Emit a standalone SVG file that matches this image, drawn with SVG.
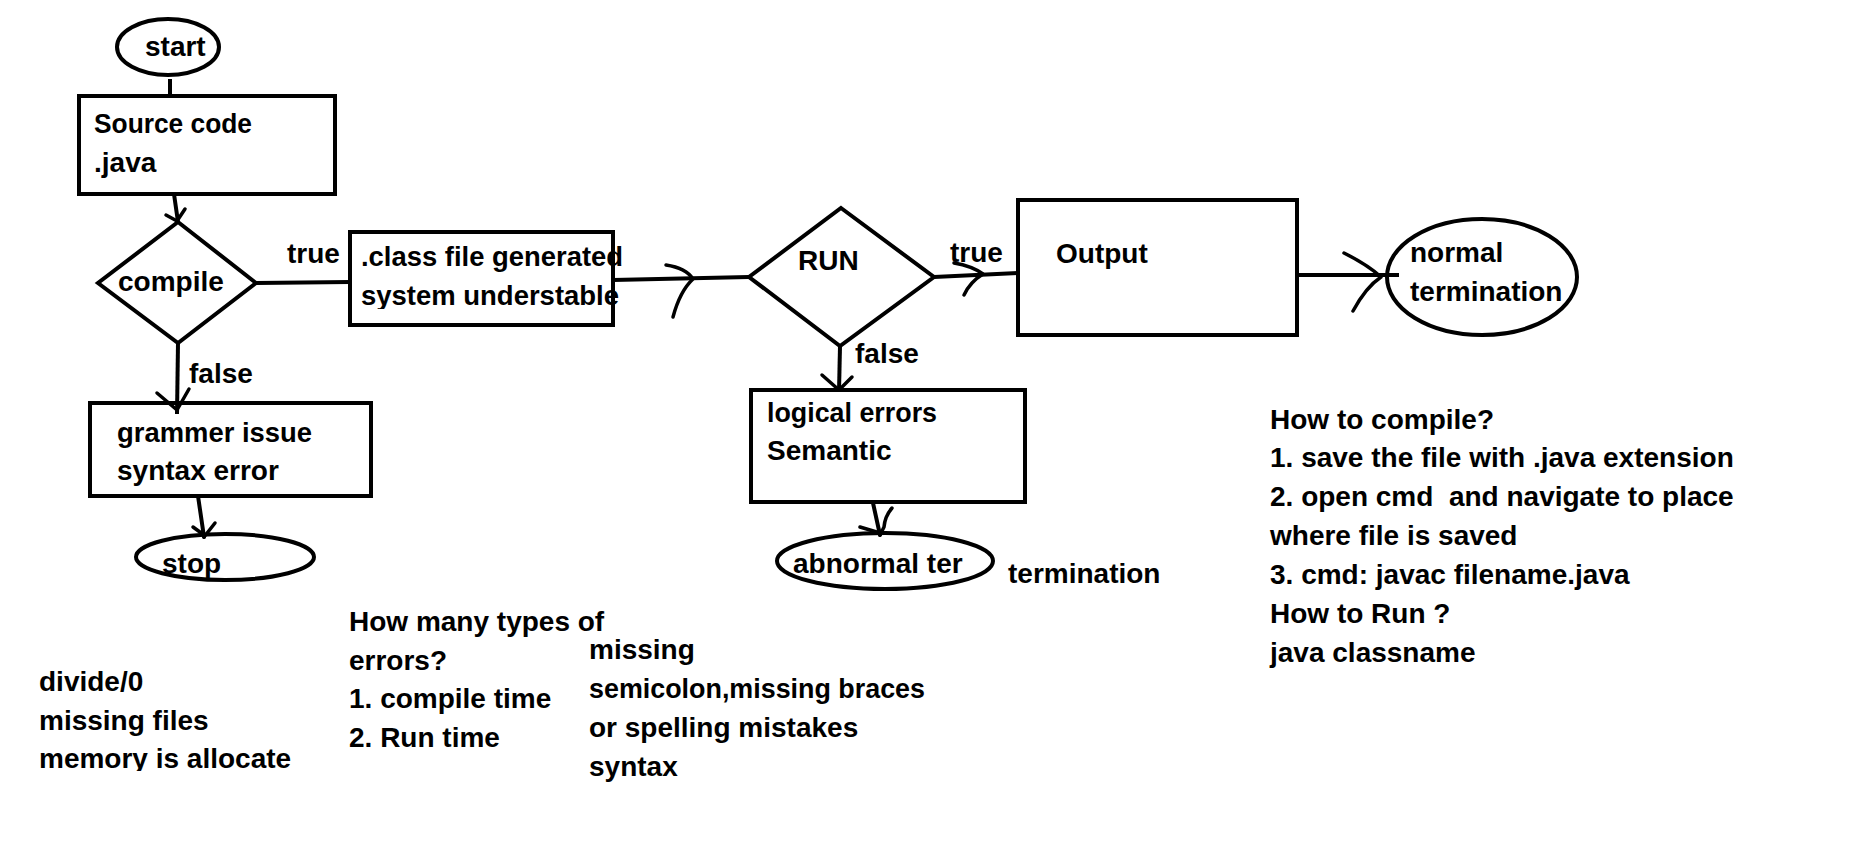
<svg xmlns="http://www.w3.org/2000/svg" width="1865" height="846" viewBox="0 0 1865 846">
<style>
.t{font-family:"Liberation Sans",Arial,sans-serif;font-weight:bold;font-size:28px;fill:#000;white-space:pre}
.s{fill:none;stroke:#000;stroke-width:4}
.c{fill:none;stroke:#000;stroke-width:4;stroke-linecap:round;stroke-linejoin:round}
.h{fill:none;stroke:#000;stroke-width:3.5;stroke-linecap:round;stroke-linejoin:round}
</style>
<defs>
<clipPath id="clipSys"><rect x="340" y="280" width="300" height="29"/></clipPath>
<clipPath id="clipMem"><rect x="20" y="740" width="320" height="31"/></clipPath>
</defs>
<rect width="1865" height="846" fill="#fff"/>

<g id="connectors">
  <line class="s" x1="170" y1="79" x2="170" y2="96"/>
  <line class="c" x1="174" y1="194" x2="178" y2="222"/>
  <path class="h" d="M166,215 L177,221 M185,209 L177,221"/>
  <line class="s" x1="256" y1="283" x2="350" y2="282"/>
  <text class="t" x="287" y="263">true</text>
  <line class="s" x1="178" y1="343" x2="177" y2="414"/>
  <path class="h" d="M157,393 L177,410 M189,389 L177,410"/>
  <text class="t" x="189" y="383">false</text>
  <line class="c" x1="198" y1="496" x2="204" y2="537"/>
  <path class="h" d="M193,527 L204,535 M215,523 L204,537"/>
  <line class="s" x1="613" y1="280" x2="749" y2="277"/>
  <path class="h" d="M666,265 Q686,268 693,279 Q680,291 673,317"/>
  <line class="s" x1="934" y1="277" x2="1018" y2="273"/>
  <path class="h" d="M954,263 Q972,266 983,274 Q970,282 964,295"/>
  <text class="t" x="950" y="262">true</text>
  <line class="s" x1="840" y1="346" x2="839" y2="392"/>
  <path class="h" d="M822,375 L839,390 M852,377 L839,390"/>
  <text class="t" x="855" y="363">false</text>
  <line class="c" x1="873" y1="503" x2="880" y2="535"/>
  <path class="h" d="M860,527 L880,533 M892,508 Q885,516 884,527 L880,535"/>
  <line class="s" x1="1297" y1="275" x2="1399" y2="275"/>
  <path class="h" d="M1344,253 Q1368,265 1381,277 Q1366,287 1353,311"/>
</g>

<g id="start">
  <ellipse class="s" cx="168" cy="47" rx="51" ry="28"/>
  <text class="t" x="145" y="56">start</text>
</g>
<g id="source">
  <rect class="s" x="79" y="96" width="256" height="98"/>
  <text class="t" x="94" y="133" textLength="158" lengthAdjust="spacingAndGlyphs">Source code</text>
  <text class="t" x="94" y="172">.java</text>
</g>
<g id="compile">
  <polygon class="s" points="178,222 256,283 178,343 98,283"/>
  <text class="t" x="118" y="291">compile</text>
</g>
<g id="classfile">
  <text class="t" x="361" y="266" textLength="262" lengthAdjust="spacingAndGlyphs">.class file generated</text>
  <text class="t" x="361" y="305" clip-path="url(#clipSys)" textLength="258" lengthAdjust="spacingAndGlyphs">system understable</text>
  <rect class="s" x="350" y="232" width="263" height="93"/>
</g>
<g id="grammer">
  <rect class="s" x="90" y="403" width="281" height="93"/>
  <text class="t" x="117" y="442" textLength="195" lengthAdjust="spacingAndGlyphs">grammer issue</text>
  <text class="t" x="117" y="480">syntax error</text>
</g>
<g id="stop">
  <ellipse class="s" cx="225" cy="557" rx="89" ry="23"/>
  <text class="t" x="162" y="573">stop</text>
</g>
<g id="run">
  <polygon class="s" points="841,208 934,277 840,346 749,277"/>
  <text class="t" x="798" y="270">RUN</text>
</g>
<g id="output">
  <rect class="s" x="1018" y="200" width="279" height="135"/>
  <text class="t" x="1056" y="263">Output</text>
</g>
<g id="normal">
  <ellipse class="s" cx="1482" cy="277" rx="95" ry="58"/>
  <text class="t" x="1410" y="262">normal</text>
  <text class="t" x="1410" y="301">termination</text>
</g>
<g id="logical">
  <rect class="s" x="751" y="390" width="274" height="112"/>
  <text class="t" x="767" y="422" textLength="170" lengthAdjust="spacingAndGlyphs">logical errors</text>
  <text class="t" x="767" y="460">Semantic</text>
</g>
<g id="abnormal">
  <ellipse class="s" cx="885" cy="561" rx="108" ry="28"/>
  <text class="t" x="793" y="573">abnormal ter</text>
  <text class="t" x="1008" y="583">termination</text>
</g>

<g id="notes">
  <text class="t" x="39" y="691">divide/0</text>
  <text class="t" x="39" y="730">missing files</text>
  <text class="t" x="39" y="768" clip-path="url(#clipMem)">memory is allocate</text>
  <text class="t" x="349" y="631">How many types of</text>
  <text class="t" x="349" y="670">errors?</text>
  <text class="t" x="349" y="708">1. compile time</text>
  <text class="t" x="349" y="747">2. Run time</text>
  <text class="t" x="589" y="659">missing</text>
  <text class="t" x="589" y="698" textLength="336" lengthAdjust="spacingAndGlyphs">semicolon,missing braces</text>
  <text class="t" x="589" y="737">or spelling mistakes</text>
  <text class="t" x="589" y="776">syntax</text>
  <text class="t" x="1270" y="429">How to compile?</text>
  <text class="t" x="1270" y="467">1. save the file with .java extension</text>
  <text class="t" x="1270" y="506">2. open cmd  and navigate to place</text>
  <text class="t" x="1270" y="545">where file is saved</text>
  <text class="t" x="1270" y="584">3. cmd: javac filename.java</text>
  <text class="t" x="1270" y="623">How to Run ?</text>
  <text class="t" x="1270" y="662">java classname</text>
</g>
</svg>
